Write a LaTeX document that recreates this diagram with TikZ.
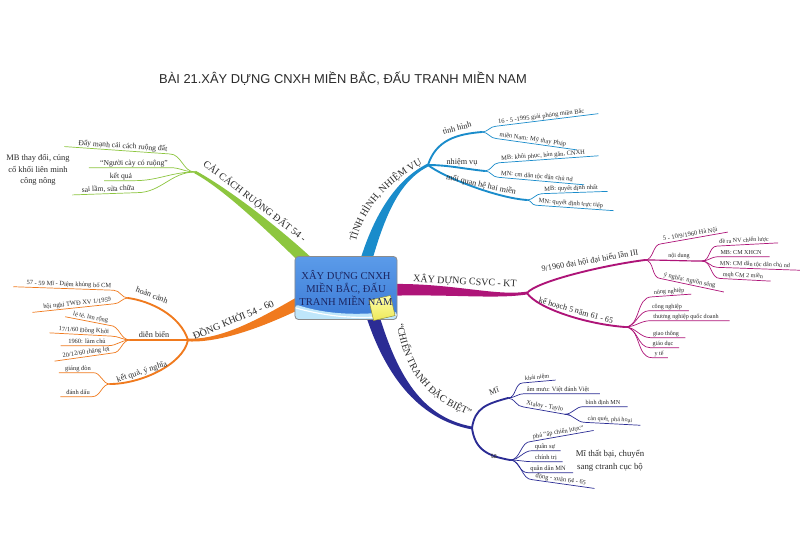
\documentclass[tikz,border=0pt]{standalone}
\usepackage{fontspec}
\setmainfont{Liberation Serif}
\newfontfamily\titlefont{Liberation Sans}
\usetikzlibrary{calc,decorations.text}
\definecolor{Lime}{HTML}{8DC63F}
\definecolor{Sky}{HTML}{1A8CCB}
\definecolor{Berry}{HTML}{AE1478}
\definecolor{Indigo}{HTML}{2B2C94}
\definecolor{Tangerine}{HTML}{F07A1E}
\definecolor{HubTop}{HTML}{5B9BE9}
\definecolor{HubBot}{HTML}{3C7BD6}
\definecolor{HubWave}{HTML}{BFE6FA}
\definecolor{HubInk}{HTML}{1C2560}
\definecolor{Lemon}{HTML}{EDE85A}
\definecolor{Ink}{HTML}{2A2A2A}

% tapered main branch: colour, root, control, control, end, half width at root, half width at end
\newcommand\mmbranch[7]{%
  \path ($#2!#6!90:#3$) coordinate (ba) ($#2!#6!-90:#3$) coordinate (bb)
        ($#5!#7!-90:#4$) coordinate (ea) ($#5!#7!90:#4$) coordinate (eb);
  \fill[#1] (ba) .. controls ($#3+(ba)-#2$) and ($#4+(ea)-#5$) .. (ea)
    -- (eb) .. controls ($#4+(eb)-#5$) and ($#3+(bb)-#2$) .. (bb) -- cycle;}
% leaf lines, to the right and to the left
\newcommand\rtwig[3]{\draw[#1,leafln] (#2) to[out=0,in=180] (#3.south west)
  -- ($(#3.south west)!1.12!(#3.south east)$);}
\newcommand\ltwig[3]{\draw[#1,leafln] (#2) to[out=180,in=0] (#3.south east)
  -- ($(#3.south east)!1.12!(#3.south west)$);}

\tikzset{
  mainlbl/.style={font=\fontsize{8.5}{10}\selectfont, text=Ink, inner sep=0pt},
  twig/.style={font=\fontsize{7}{8}\selectfont, text=Ink, inner sep=1pt},
  leaf/.style={font=\fontsize{5.5}{6.5}\selectfont, text=Ink, inner xsep=2pt,
    inner ysep=.5pt, text height=1.5ex, text depth=.3ex},
  tinyleaf/.style={leaf, font=\fontsize{5.2}{6}\selectfont},
  bigleaf/.style={leaf, font=\fontsize{6.5}{7.5}\selectfont},
  freetext/.style={align=center, text=Ink},
  subln/.style={line width=1.6pt, line cap=round},
  leafln/.style={line width=.6pt},
  hub/.style={rounded corners=3pt, draw=black!45, line width=.7pt,
    top color=HubTop, bottom color=HubBot, minimum width=3.06cm,
    minimum height=1.89cm, inner sep=0pt,
    path picture={
      \fill[HubWave] ([yshift=13pt]path picture bounding box.south west)
        .. controls +(1.1cm,-.35cm) and +(-1cm,-.1cm) ..
        ([yshift=7pt]path picture bounding box.south east)
        |- (path picture bounding box.south west) -- cycle;
      \draw[white, line width=1pt] ([yshift=10pt]path picture bounding box.south west)
        .. controls +(1.1cm,-.3cm) and +(-1cm,-.15cm) ..
        ([yshift=4pt]path picture bounding box.south east);}},
  hubtext/.style={align=center, text=HubInk, inner sep=0pt,
    font=\fontsize{9}{10.8}\selectfont},
  sticky/.style={draw=Lemon!60!black, line width=.4pt, top color=yellow!35!white,
    bottom color=Lemon, minimum width=.66cm, minimum height=.62cm, inner sep=0pt}
}

\begin{document}
\begin{tikzpicture}[x=0.03cm,y=-0.03cm]
  \useasboundingbox (0,0) rectangle (800,552);
  \fill[white] (0,0) rectangle (800,552);

  \node[font=\titlefont\fontsize{11}{13}\selectfont, text=Ink] (title) at (343,79)
    {BÀI 21.XÂY DỰNG CNXH MIỀN BẮC, ĐẤU TRANH MIỀN NAM};

  % junctions
  \coordinate (J0) at (195,172);
  \coordinate (J1) at (428,165);
  \coordinate (J2) at (527,293);
  \coordinate (J3) at (472,428);
  \coordinate (J4) at (188,340);
  \coordinate (S11) at (482,132);
  \coordinate (S12) at (485,171);
  \coordinate (S13) at (527,200);
  \coordinate (S21) at (645,260);
  \coordinate (S22) at (625,327);
  \coordinate (S23) at (702,261);
  \coordinate (S31) at (508,398);
  \coordinate (S32) at (510,460);
  \coordinate (S41) at (128,298);
  \coordinate (S42) at (130,340);
  \coordinate (S43) at (110,384);

  % main branches
  \mmbranch{Lime}{(318,272)}{(280,235)}{(228,190)}{(J0)}{5pt}{1.2pt}
  \mmbranch{Sky}{(362,275)}{(378,215)}{(398,180)}{(J1)}{5pt}{1.2pt}
  \mmbranch{Berry}{(385,290)}{(450,288)}{(495,298)}{(J2)}{5pt}{1.2pt}
  \mmbranch{Indigo}{(368,300)}{(388,372)}{(418,418)}{(J3)}{5.5pt}{1.2pt}
  \mmbranch{Tangerine}{(318,293)}{(285,310)}{(230,342)}{(J4)}{5.5pt}{1.2pt}

  \node[hub] (hub) at (346,288) {};
  \node[sticky, rotate=13] (sticky) at (382,308) {};
  \node[hubtext] (hubtxt) at (hub) {XÂY DỰNG CNXH\\MIỀN BẮC, ĐẤU\\TRANH MIỀN NAM};

  % branch titles
  \node[mainlbl, rotate=-37.5] (cccrd) at (255,201) {CẢI CÁCH RUỘNG ĐẤT 54 -};
  \node[mainlbl, rotate=-3] (csvc) at (465,281) {XÂY DỰNG CSVC - KT};
  \node[mainlbl, rotate=23] (dongkhoi) at (233,319) {ĐỒNG KHỞI 54 - 60};
  \path[decorate, decoration={text along path, text align=left, text color=Ink,
      text={|\fontsize{8.5}{10}\selectfont|TÌNH HÌNH, NHIỆM VỤ}}]
    (356,242) .. controls (365,208) and (386,182) .. (430,160);
  \path[decorate, decoration={text along path, text align=left, text color=Ink,
      text={|\fontsize{8.5}{10}\selectfont|“CHIẾN TRANH ĐẶC BIỆT”}}]
    (397,324) .. controls (404,370) and (425,402) .. (482,420);

  % sub-branches
  \draw[Sky,subln] (J1) .. controls +(8,-25) and +(-25,2) .. (S11);
  \draw[Sky,subln] (J1) .. controls +(20,0) and +(-20,-2) .. (S12);
  \draw[Sky,subln] (J1) .. controls +(15,12) and +(-30,-2) .. (S13);
  \draw[Berry,subln] (J2) .. controls +(10,-12) and +(-40,5) .. (S21);
  \draw[Berry,subln] (J2) .. controls +(10,15) and +(-40,-3) .. (S22);
  \draw[Berry,line width=1pt] (S21) .. controls +(20,0) and +(-20,0) .. (S23);
  \draw[Indigo,subln] (J3) .. controls +(3,-20) and +(-22,6) .. (S31);
  \draw[Indigo,subln] (J3) .. controls +(3,22) and +(-22,-4) .. (S32);
  \draw[Tangerine,subln] (J4) .. controls +(-8,-25) and +(22,3) .. (S41);
  \draw[Tangerine,subln] (J4) .. controls +(-20,0) and +(20,0) .. (S42);
  \draw[Tangerine,subln] (J4) .. controls +(-5,25) and +(30,0) .. (S43);

  \node[twig, rotate=15] (tinhhinh) at (457,128) {tình hình};
  \node[twig] (nhiemvu) at (462,162) {nhiệm vụ};
  \node[twig, rotate=-12] (quanhe) at (481,185) {mối quan hệ hai miền};
  \node[twig, rotate=10] (daihoi) at (590,261) {9/1960 đại hội đại biểu lần III};
  \node[twig, rotate=-16] (kehoach) at (576,311) {kế hoạch 5 năm 61 - 65};
  \node[tinyleaf] (noidung) at (679,254) {nội dung};
  \node[twig, rotate=20] (mi) at (494,391) {Mĩ};
  \node[twig] (ta) at (494,456) {ta};
  \node[twig, rotate=-21] (hoancanh) at (152,295) {hoàn cảnh};
  \node[twig] (dienbien) at (154,334) {diễn biến};
  \node[twig, rotate=18] (ketqua) at (142,372) {kết quả, ý nghĩa};

  % leaves: cai cach ruong dat
  \node[bigleaf, rotate=-4] (g1) at (123,145) {Đẩy mạnh cải cách ruộng đất};
  \node[bigleaf] (g2) at (134,162) {“Người cày có ruộng”};
  \node[bigleaf] (g3) at (121,175) {kết quả};
  \node[bigleaf, rotate=2] (g4) at (108,188) {sai lầm, sửa chữa};
  \ltwig{Lime}{J0}{g1} \ltwig{Lime}{J0}{g2} \ltwig{Lime}{J0}{g3} \ltwig{Lime}{J0}{g4}
  \node[freetext, font=\fontsize{7.2}{9.6}\selectfont] (mbnote) at (38,170)
    {MB thay đổi, củng\\cố khối liên minh\\công nông};

  % leaves: tinh hinh, nhiem vu
  \node[leaf, rotate=7] (b1) at (541,115) {16 - 5 -1995 giải phóng miền Bắc};
  \node[leaf, rotate=-8] (b2) at (533,138) {miền Nam: Mỹ thay Pháp};
  \node[leaf, rotate=4] (b3) at (543,154) {MB: khôi phục, hàn gắn, CNXH};
  \node[leaf, rotate=-5] (b4) at (537,175) {MN: cm dân tộc dân chủ nd};
  \node[leaf, rotate=2] (b5) at (571,187) {MB: quyết định nhất};
  \node[leaf, rotate=-4] (b6) at (571,202) {MN: quyết định trực tiếp};
  \rtwig{Sky}{S11}{b1} \rtwig{Sky}{S11}{b2} \rtwig{Sky}{S12}{b3}
  \rtwig{Sky}{S12}{b4} \rtwig{Sky}{S13}{b5} \rtwig{Sky}{S13}{b6}

  % leaves: xay dung csvc
  \node[leaf, rotate=10] (m1) at (690,233) {5 - 10/9/1960 Hà Nội};
  \node[leaf, rotate=-12] (m2) at (690,279) {ý nghĩa: nguồn sáng};
  \node[tinyleaf, rotate=3] (m3) at (744,239) {đề ra NV chiến lược};
  \node[tinyleaf] (m4) at (741,251) {MB: CM XHCN};
  \node[tinyleaf, rotate=-2] (m5) at (755,263) {MN: CM dân tộc dân chủ nd};
  \node[tinyleaf, rotate=-3] (m6) at (743,274) {mqh CM 2 miền};
  \rtwig{Berry}{S21}{m1} \rtwig{Berry}{S21}{m2}
  \rtwig{Berry}{S23}{m3} \rtwig{Berry}{S23}{m4} \rtwig{Berry}{S23}{m5} \rtwig{Berry}{S23}{m6}
  \node[tinyleaf, rotate=4] (k1) at (669,290) {nông nghiệp};
  \node[tinyleaf] (k2) at (667,305) {công nghiệp};
  \node[tinyleaf] (k3) at (686,315) {thương nghiệp quốc doanh};
  \node[tinyleaf] (k4) at (666,332) {giao thông};
  \node[tinyleaf] (k5) at (663,342) {giáo dục};
  \node[tinyleaf] (k6) at (659,352) {y tế};
  \rtwig{Berry}{S22}{k1} \rtwig{Berry}{S22}{k2} \rtwig{Berry}{S22}{k3}
  \rtwig{Berry}{S22}{k4} \rtwig{Berry}{S22}{k5} \rtwig{Berry}{S22}{k6}

  % leaves: chien tranh dac biet
  \node[tinyleaf, rotate=5] (n1) at (537,376) {khái niệm};
  \node[leaf] (n2) at (558,388) {âm mưu: Việt đánh Việt};
  \node[leaf, rotate=-10] (n3) at (545,405) {Xtalay - Taylo};
  \node[tinyleaf] (n4) at (603,401) {bình định MN};
  \node[tinyleaf, rotate=-3] (n5) at (610,418) {càn quét, phá hoại};
  \rtwig{Indigo}{S31}{n1} \rtwig{Indigo}{S31}{n2} \rtwig{Indigo}{S31}{n3}
  \rtwig{Indigo}{n3.south east}{n4} \rtwig{Indigo}{n3.south east}{n5}
  \node[leaf, rotate=10] (t1) at (558,431) {phá “ấp chiến lược”};
  \node[leaf] (t2) at (545,445) {quân sự};
  \node[leaf] (t3) at (546,456) {chính trị};
  \node[leaf] (t4) at (548,467) {quân dân MN};
  \node[leaf, rotate=-8] (t5) at (561,478) {đồng - xuân 64 - 65};
  \rtwig{Indigo}{S32}{t1} \rtwig{Indigo}{S32}{t2} \rtwig{Indigo}{S32}{t3}
  \rtwig{Indigo}{S32}{t4} \rtwig{Indigo}{S32}{t5}
  \node[freetext, font=\fontsize{7.5}{11}\selectfont] (minote) at (610,461)
    {Mĩ thất bại, chuyển\\sang ctranh cục bộ};

  % leaves: dong khoi
  \node[leaf, rotate=-2] (o1) at (69,283) {57 - 59 Mĩ - Diệm khủng bố CM};
  \node[leaf, rotate=6] (o2) at (77,302) {hội nghị TWĐ XV 1/1959};
  \node[leaf, rotate=-11] (o3) at (91,316) {lẻ tẻ, lan rộng};
  \node[leaf, rotate=-3] (o4) at (84,329) {17/1/60 Đồng Khởi};
  \node[leaf] (o5) at (87,340) {1960: làm chủ};
  \node[leaf, rotate=8] (o6) at (86,351) {20/12/60 thắng lợi};
  \node[leaf] (o7) at (78,367) {giáng đòn};
  \node[leaf] (o8) at (78,391) {đánh dấu};
  \ltwig{Tangerine}{S41}{o1} \ltwig{Tangerine}{S41}{o2}
  \ltwig{Tangerine}{S42}{o3} \ltwig{Tangerine}{S42}{o4}
  \ltwig{Tangerine}{S42}{o5} \ltwig{Tangerine}{S42}{o6}
  \ltwig{Tangerine}{S43}{o7} \ltwig{Tangerine}{S43}{o8}
\end{tikzpicture}
\end{document}
